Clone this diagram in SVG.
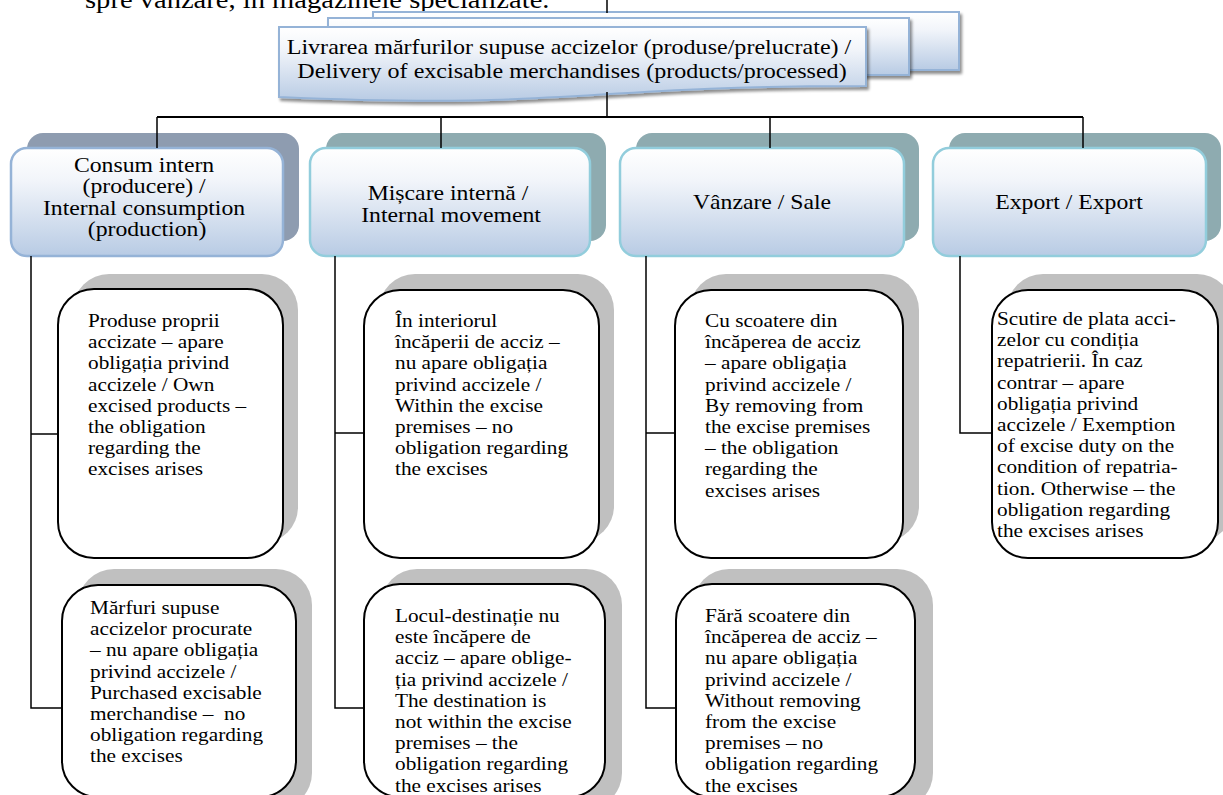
<svg xmlns="http://www.w3.org/2000/svg" width="1223" height="795" viewBox="0 0 1223 795">
<defs>
<linearGradient id="gBlue" x1="0" y1="0" x2="0" y2="1">
<stop offset="0" stop-color="#FFFFFF"/>
<stop offset="0.3" stop-color="#F2F5FA"/>
<stop offset="1" stop-color="#B8CBE4"/>
</linearGradient>
<filter id="sh" x="-5%" y="-10%" width="115%" height="140%">
<feGaussianBlur in="SourceAlpha" stdDeviation="1.5" result="b"/>
<feOffset in="b" dx="2" dy="3" result="o"/>
<feComponentTransfer in="o" result="s"><feFuncA type="linear" slope="0.45"/></feComponentTransfer>
<feMerge><feMergeNode in="s"/><feMergeNode in="SourceGraphic"/></feMerge>
</filter>
<style>
.t { font-family: "Liberation Serif", "Times New Roman", serif; fill:#000; }
.top { font-size: 25.5px; }
.hdr { font-size: 21.5px; }
.l1 { font-size: 21px; }
.l2 { font-size: 19px; white-space: pre; }
.wire { stroke:#000; stroke-width:1.5; fill:none; }
.bus { stroke:#000; stroke-width:2.2; fill:none; }
.hbox { fill:url(#gBlue); stroke:#95B3D7; stroke-width:2; filter:url(#sh); }
.l1f { fill:url(#gBlue); stroke:#92CDDC; stroke-width:2.5; }
.l1f.first { stroke:#95B3D7; }
.l1s { fill:#8EABB0; }
.l1s.first { fill:#8E9CB0; }
.l2s { fill:#C0C0C0; }
.l2f { fill:#FFFFFF; stroke:#000; stroke-width:2; }
</style>
</defs>

<text class="t top" transform="translate(85,0) scale(1.12,1)" x="0" y="7.5">spre vânzare, în magazinele specializate.</text>

<g id="header">
<rect class="hbox" x="373" y="12" width="586" height="58"/>
<rect class="hbox" x="328" y="18" width="581" height="57"/>
<path class="hbox" d="M279,27 H866 V86 C572,86 572,110 279,97 Z"/>
<text class="t hdr" transform="translate(572,0) scale(1.12,1)" text-anchor="middle">
<tspan x="0" y="54">Livrarea mărfurilor supuse accizelor (produse/prelucrate) /</tspan>
<tspan x="0" y="78">Delivery of excisable merchandises (products/processed)</tspan>
</text>
</g>

<g id="consum">
<rect class="l1s first" x="27" y="133" width="272" height="108" rx="16"/>
<rect class="l1f first" x="11" y="148" width="272" height="108" rx="16"/>
<text class="t l1" transform="translate(147,0) scale(1.13,1)" text-anchor="middle">
<tspan x="0" y="172">Consum intern</tspan>
<tspan x="0" y="193.4">(producere) /</tspan>
<tspan x="0" y="214.8">Internal consumption</tspan>
<tspan x="0" y="236.2">(production)</tspan>
</text>
</g>

<g id="miscare">
<rect class="l1s" x="326" y="133" width="280" height="108" rx="16"/>
<rect class="l1f" x="310" y="148" width="280" height="108" rx="16"/>
<text class="t l1" transform="translate(451,0) scale(1.13,1)" text-anchor="middle">
<tspan x="0" y="200">Mișcare internă /</tspan>
<tspan x="0" y="222">Internal movement</tspan>
</text>
</g>

<g id="vanzare">
<rect class="l1s" x="636" y="133" width="283" height="108" rx="16"/>
<rect class="l1f" x="620" y="148" width="284" height="108" rx="16"/>
<text class="t l1" transform="translate(762,0) scale(1.13,1)" text-anchor="middle" x="0" y="209">Vânzare / Sale</text>
</g>

<g id="export">
<rect class="l1s" x="949" y="133" width="272" height="108" rx="16"/>
<rect class="l1f" x="933" y="148" width="273" height="108" rx="16"/>
<text class="t l1" transform="translate(1069,0) scale(1.13,1)" text-anchor="middle" x="0" y="209">Export / Export</text>
</g>

<g id="consum-proprii">
<rect class="l2s" x="73" y="274" width="225" height="269" rx="36"/>
<rect class="l2f" x="58" y="289" width="225" height="269" rx="36"/>
<text class="t l2" transform="translate(88,0) scale(1.12,1)">
<tspan x="0" y="327">Produse proprii</tspan>
<tspan x="0" y="348.2">accizate – apare</tspan>
<tspan x="0" y="369.4">obligația privind</tspan>
<tspan x="0" y="390.6">accizele / Own</tspan>
<tspan x="0" y="411.8">excised products –</tspan>
<tspan x="0" y="433">the obligation</tspan>
<tspan x="0" y="454.2">regarding the</tspan>
<tspan x="0" y="475.4">excises arises</tspan>
</text>
</g>

<g id="consum-procurate">
<rect class="l2s" x="78" y="569" width="234" height="240" rx="36"/>
<rect class="l2f" x="62" y="585" width="234" height="212" rx="36"/>
<text class="t l2" transform="translate(90,0) scale(1.12,1)">
<tspan x="0" y="614">Mărfuri supuse</tspan>
<tspan x="0" y="635.2">accizelor procurate</tspan>
<tspan x="0" y="656.4">– nu apare obligația</tspan>
<tspan x="0" y="677.6">privind accizele /</tspan>
<tspan x="0" y="698.8">Purchased excisable</tspan>
<tspan x="0" y="720">merchandise –  no</tspan>
<tspan x="0" y="741.2">obligation regarding</tspan>
<tspan x="0" y="762.4">the excises</tspan>
</text>
</g>

<g id="miscare-interior">
<rect class="l2s" x="379" y="274" width="235" height="268" rx="36"/>
<rect class="l2f" x="364" y="290" width="235" height="268" rx="36"/>
<text class="t l2" transform="translate(395,0) scale(1.12,1)">
<tspan x="0" y="327">În interiorul</tspan>
<tspan x="0" y="348.2">încăperii de acciz –</tspan>
<tspan x="0" y="369.4">nu apare obligația</tspan>
<tspan x="0" y="390.6">privind accizele /</tspan>
<tspan x="0" y="411.8">Within the excise</tspan>
<tspan x="0" y="433">premises – no</tspan>
<tspan x="0" y="454.2">obligation regarding</tspan>
<tspan x="0" y="475.4">the excises</tspan>
</text>
</g>

<g id="miscare-destinatie">
<rect class="l2s" x="381" y="569" width="241" height="240" rx="36"/>
<rect class="l2f" x="364" y="584" width="241" height="213" rx="36"/>
<text class="t l2" transform="translate(395,0) scale(1.12,1)">
<tspan x="0" y="622">Locul-destinație nu</tspan>
<tspan x="0" y="643.2">este încăpere de</tspan>
<tspan x="0" y="664.4">acciz – apare oblige-</tspan>
<tspan x="0" y="685.6">ția privind accizele /</tspan>
<tspan x="0" y="706.8">The destination is</tspan>
<tspan x="0" y="728">not within the excise</tspan>
<tspan x="0" y="749.2">premises – the</tspan>
<tspan x="0" y="770.4">obligation regarding</tspan>
<tspan x="0" y="791.6">the excises arises</tspan>
</text>
</g>

<g id="vanzare-cu">
<rect class="l2s" x="690" y="274" width="229" height="268" rx="36"/>
<rect class="l2f" x="675" y="290" width="228" height="268" rx="36"/>
<text class="t l2" transform="translate(705,0) scale(1.12,1)">
<tspan x="0" y="327">Cu scoatere din</tspan>
<tspan x="0" y="348.2">încăperea de acciz</tspan>
<tspan x="0" y="369.4">– apare obligația</tspan>
<tspan x="0" y="390.6">privind accizele /</tspan>
<tspan x="0" y="411.8">By removing from</tspan>
<tspan x="0" y="433">the excise premises</tspan>
<tspan x="0" y="454.2">– the obligation</tspan>
<tspan x="0" y="475.4">regarding the</tspan>
<tspan x="0" y="496.6">excises arises</tspan>
</text>
</g>

<g id="vanzare-fara">
<rect class="l2s" x="693" y="569" width="240" height="240" rx="36"/>
<rect class="l2f" x="676" y="584" width="239" height="213" rx="36"/>
<text class="t l2" transform="translate(705,0) scale(1.12,1)">
<tspan x="0" y="622">Fără scoatere din</tspan>
<tspan x="0" y="643.2">încăperea de acciz –</tspan>
<tspan x="0" y="664.4">nu apare obligația</tspan>
<tspan x="0" y="685.6">privind accizele /</tspan>
<tspan x="0" y="706.8">Without removing</tspan>
<tspan x="0" y="728">from the excise</tspan>
<tspan x="0" y="749.2">premises – no</tspan>
<tspan x="0" y="770.4">obligation regarding</tspan>
<tspan x="0" y="791.6">the excises</tspan>
</text>
</g>

<g id="export-scutire">
<rect class="l2s" x="1007" y="274" width="226" height="268" rx="36"/>
<rect class="l2f" x="992" y="290" width="226" height="268" rx="36"/>
<text class="t l2" transform="translate(997,0) scale(1.12,1)">
<tspan x="0" y="325">Scutire de plata acci-</tspan>
<tspan x="0" y="346.2">zelor cu condiția</tspan>
<tspan x="0" y="367.4">repatrierii. În caz</tspan>
<tspan x="0" y="388.6">contrar – apare</tspan>
<tspan x="0" y="409.8">obligația privind</tspan>
<tspan x="0" y="431">accizele / Exemption</tspan>
<tspan x="0" y="452.2">of excise duty on the</tspan>
<tspan x="0" y="473.4">condition of repatria-</tspan>
<tspan x="0" y="494.6">tion. Otherwise – the</tspan>
<tspan x="0" y="515.8">obligation regarding</tspan>
<tspan x="0" y="537">the excises arises</tspan>
</text>
</g>

<g id="connectors">
<path class="wire" d="M607,0 V13"/>
<path class="wire" d="M607,92 V117"/>
<path class="bus" d="M157,117 H1083"/>
<path class="wire" d="M157,117 V148 M441,117 V148 M770,117 V148 M1083,117 V148"/>
<path class="wire" d="M31,256 V708 H62 M31,434 H58"/>
<path class="wire" d="M335,256 V708 H364 M335,433 H364"/>
<path class="wire" d="M646,256 V708 H676 M646,433 H675"/>
<path class="wire" d="M960,256 V433 H992"/>
</g>
</svg>
